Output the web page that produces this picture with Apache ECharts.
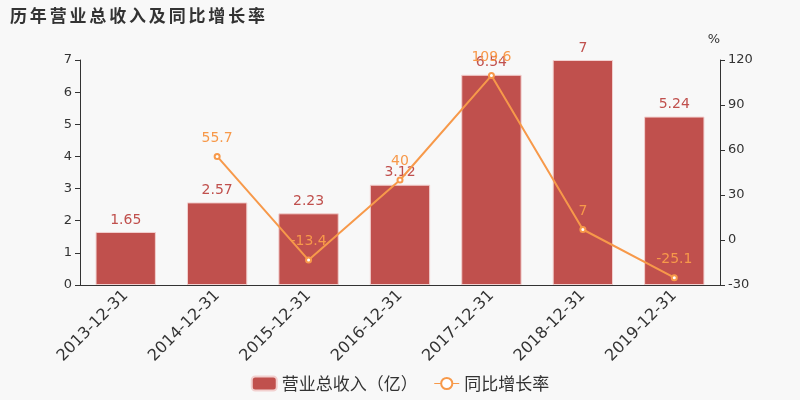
<!DOCTYPE html>
<html><head><meta charset="utf-8">
<script src="https://cdn.jsdelivr.net/npm/echarts@6/dist/echarts.min.js"></script>
<style>html,body{margin:0;padding:0;background:#f8f8f8}#c{width:800px;height:400px}</style>
</head><body><div id="c"></div>
<script>
var categories = ['2013-12-31','2014-12-31','2015-12-31','2016-12-31','2017-12-31','2018-12-31','2019-12-31'];
var revenue = [1.65, 2.57, 2.23, 3.12, 6.54, 7, 5.24];
var growth = ['-', 55.7, -13.4, 40, 109.6, 7, -25.1];
var chart = echarts.init(document.getElementById('c'));
var F = 'DejaVu Sans';
chart.setOption({
  backgroundColor: '#f8f8f8',
  textStyle: {fontFamily: F},
  title: {text: '历\u2006年\u2006营\u2006业\u2006总\u2006收\u2006入\u2006及\u2006同\u2006比\u2006增\u2006长\u2006率', left: 5, top: 2,
    textStyle: {fontSize: 17, fontWeight: 'bold', color: '#333', fontFamily: 'Noto Sans CJK SC'}},
  legend: {bottom: 3, left: 'center', itemWidth: 25, itemHeight: 14, itemGap: 16,
    textStyle: {fontSize: 17, color: '#333', fontFamily: 'Noto Sans CJK SC'},
    data: [{name: '营业总收入（亿）', icon: 'roundRect'},
           {name: '同比增长率', lineStyle: {color: '#f7994a', width: 1}}]},
  grid: {left: 80, right: 80, top: 60, bottom: 115},
  xAxis: {type: 'category', data: categories,
    axisLine: {lineStyle: {color: '#333'}},
    axisLabel: {rotate: 45, fontSize: 16, color: '#333', interval: 0, margin: 8, fontFamily: F}},
  yAxis: [
    {type: 'value', min: 0, max: 7, interval: 1, splitLine: {show: false},
      axisLine: {show: true, lineStyle: {color: '#333'}}, axisTick: {show: true},
      axisLabel: {fontSize: 13, color: '#333', fontFamily: F}},
    {type: 'value', min: -30, max: 120, interval: 30, name: '%', nameGap: 14,
      nameTextStyle: {fontSize: 13, color: '#333', align: 'right', fontFamily: F}, splitLine: {show: false},
      axisLine: {show: true, lineStyle: {color: '#333'}}, axisTick: {show: true},
      axisLabel: {fontSize: 13, color: '#333', fontFamily: F}}
  ],
  series: [
    {name: '营业总收入（亿）', type: 'bar', data: revenue, barWidth: '66%',
      itemStyle: {color: '#c0504d', borderColor: '#f2d0cf', borderWidth: 1},
      label: {show: true, position: 'top', fontSize: 14, color: '#c0504d', fontFamily: F}},
    {name: '同比增长率', type: 'line', yAxisIndex: 1, data: growth,
      symbol: 'emptyCircle', symbolSize: 5, showAllSymbol: true,
      lineStyle: {color: '#f7994a', width: 2},
      itemStyle: {color: '#f7994a', borderWidth: 1},
      label: {show: true, position: 'top', fontSize: 14, color: '#f7994a', distance: 8, fontFamily: F}}
  ]
});
</script></body></html>
